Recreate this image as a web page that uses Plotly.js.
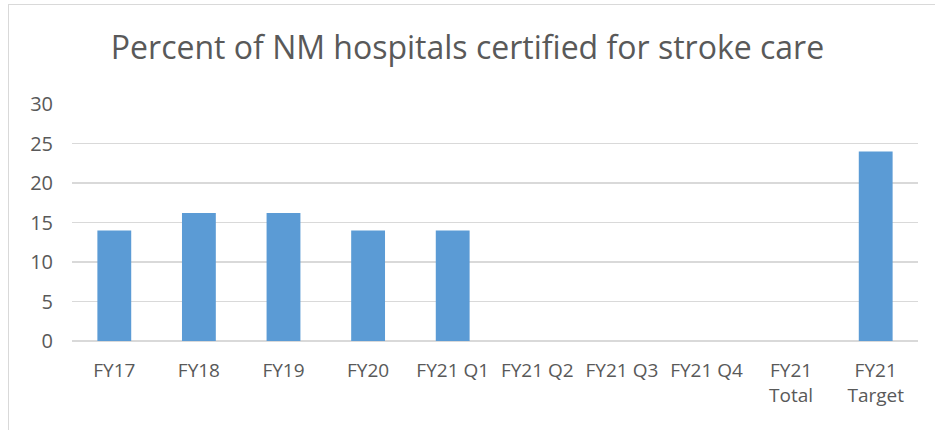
<!DOCTYPE html>
<html>
<head>
<meta charset="utf-8">
<script src="https://cdn.plot.ly/plotly-3.0.1.min.js"></script>
<style>
html,body{margin:0;padding:0;background:#fff;}
#wrap{position:relative;width:935px;height:430px;overflow:hidden;}
#chart{width:935px;height:430px;}
#frame{position:absolute;left:8px;top:4px;width:940px;height:440px;border-left:1px solid #d9d9d9;border-top:1px solid #d9d9d9;pointer-events:none;}
</style>
</head>
<body>
<div id="wrap"><div id="chart"></div><div id="frame"></div></div>
<script>
const categories = ["FY17","FY18","FY19","FY20","FY21 Q1","FY21 Q2","FY21 Q3","FY21 Q4","FY21<br>Total","FY21<br>Target"];
const values = [14, 16.2, 16.2, 14, 14, null, null, null, null, 24];
const yTicks = [0,5,10,15,20,25,30];
const chartTitle = "Percent of NM hospitals certified for stroke care";

Plotly.newPlot("chart", [{
  type: "bar",
  x: categories,
  y: values,
  marker: {color: "#5b9bd5"},
  hoverinfo: "x+y"
}], {
  width: 935, height: 430,
  margin: {l: 72, r: 17, t: 104, b: 89},
  paper_bgcolor: "rgba(0,0,0,0)",
  plot_bgcolor: "#fff",
  bargap: 0.6,
  showlegend: false,
  font: {family: "Open Sans, sans-serif", color: "#595959"},
  title: {text: chartTitle, x: 0.5, xanchor: "center", y: 0.888, yanchor: "middle",
          font: {size: 32, color: "#595959", family: "Open Sans, sans-serif"}},
  xaxis: {type: "category", showgrid: false, zeroline: false, showline: false,
          tickfont: {size: 19, color: "#595959"}, ticks: "", ticklabelstandoff: 16, automargin: false},
  yaxis: {range: [0, 30], tickvals: yTicks, showgrid: true, gridcolor: "#d9d9d9", gridwidth: 1.5,
          zeroline: true, zerolinecolor: "#d9d9d9", zerolinewidth: 1.5, showline: false,
          tickfont: {size: 20, color: "#595959"}, ticks: "", ticklabelstandoff: 18, automargin: false}
}, {staticPlot: true});
</script>
</body>
</html>
